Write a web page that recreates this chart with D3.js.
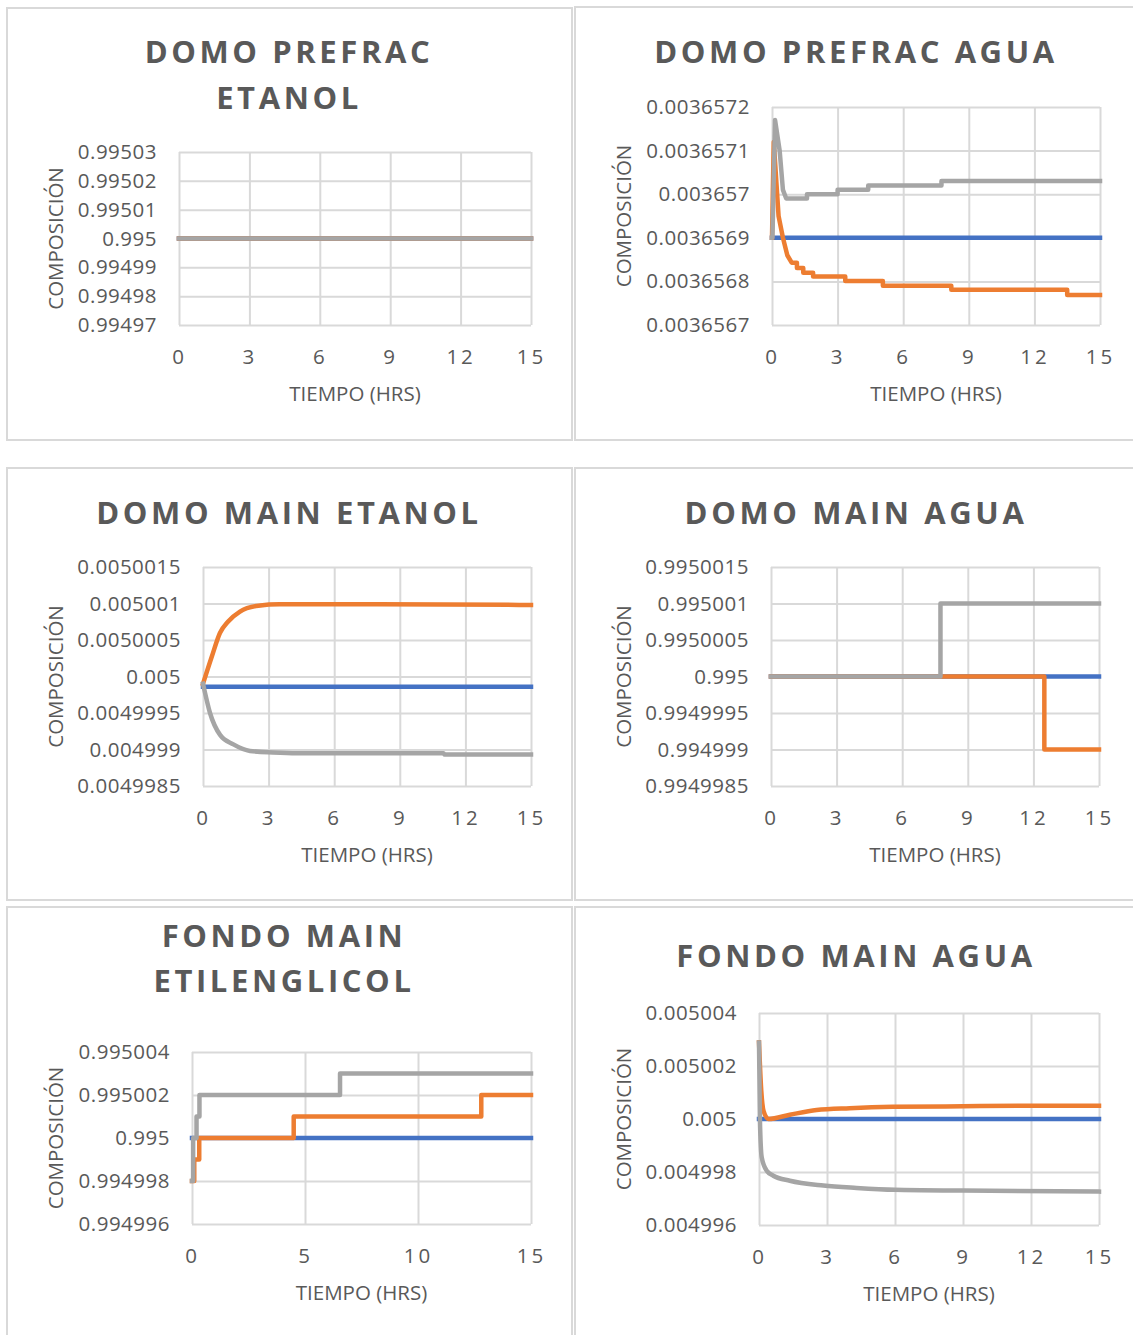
<!DOCTYPE html>
<html>
<head>
<meta charset="utf-8">
<script src="https://cdn.jsdelivr.net/npm/d3@7"></script>
<style>
  html, body { margin: 0; padding: 0; background: #fff; }
  svg { display: block; }
</style>
</head>
<body>
<svg id="chart" width="1133" height="1335"></svg>
<script>
// ---- Data: time (hrs) vs composition, three series per panel ----
const seriesNames = ["Serie1", "Serie2", "Serie3"];
const seriesColors = ["#4472C4", "#ED7D31", "#A5A5A5"];

const ticksTime3 = ["0", "3", "6", "9", "12", "15"];
const ticksTime5 = ["0", "5", "10", "15"];

// DOMO PREFRAC ETANOL
const prefracEtanolTicks = ["0.99503", "0.99502", "0.99501", "0.995", "0.99499", "0.99498", "0.99497"];
const prefracEtanolBlue   = [[0, 0.995], [15, 0.995]];
const prefracEtanolOrange = [[0, 0.995], [15, 0.995]];
const prefracEtanolGray   = [[0, 0.995], [15, 0.995]];

// DOMO PREFRAC AGUA
const prefracAguaTicks = ["0.0036572", "0.0036571", "0.003657", "0.0036569", "0.0036568", "0.0036567"];
const prefracAguaBlue = [[0, 0.0036569], [15, 0.0036569]];
const prefracAguaOrange = [
  [0, 0.0036569], [0.08, 0.00365712], [0.3, 0.00365695], [0.5, 0.0036569], [0.7, 0.00365686],
  [0.9, 0.003656843], [1.14, 0.003656843], [1.14, 0.003656831], [1.43, 0.003656831],
  [1.43, 0.00365682], [1.88, 0.00365682], [1.88, 0.003656811], [3.35, 0.003656811],
  [3.35, 0.003656801], [5.07, 0.003656801], [5.07, 0.00365679], [8.2, 0.00365679],
  [8.2, 0.003656781], [13.5, 0.003656781], [13.5, 0.003656769], [15, 0.003656769]
];
const prefracAguaGray = [
  [0, 0.0036569], [0.02, 0.0036569], [0.14, 0.00365717], [0.35, 0.0036571], [0.5, 0.00365701],
  [0.65, 0.00365699], [1.6, 0.00365699], [1.6, 0.003657], [3.0, 0.003657], [3.0, 0.00365701],
  [4.4, 0.00365701], [4.4, 0.00365702], [7.75, 0.00365702], [7.75, 0.00365703], [15, 0.00365703]
];

// DOMO MAIN ETANOL
const mainEtanolTicks = ["0.0050015", "0.005001", "0.0050005", "0.005", "0.0049995", "0.004999", "0.0049985"];
const mainEtanolBlue = [[0, 0.00499986], [15, 0.00499986]];
const mainEtanolOrange = [
  [0, 0.0049999], [0.4, 0.00500027], [0.78, 0.0050006], [1.14, 0.00500075], [1.69, 0.00500089],
  [2.53, 0.00500097], [3.5, 0.00500099], [15, 0.00500098]
];
const mainEtanolGray = [
  [0, 0.0049999], [0.32, 0.0049995], [0.78, 0.0049992], [1.39, 0.00499907], [2.15, 0.00499898],
  [3.2, 0.00499896], [4.3, 0.00499895], [11, 0.00499895], [11.05, 0.00499893], [15, 0.00499893]
];

// DOMO MAIN AGUA
const mainAguaTicks = ["0.9950015", "0.995001", "0.9950005", "0.995", "0.9949995", "0.994999", "0.9949985"];
const mainAguaBlue = [[0, 0.995], [15, 0.995]];
const mainAguaOrange = [[0, 0.995], [12.5, 0.994999], [15, 0.994999]];
const mainAguaGray = [[0, 0.995], [7.75, 0.995001], [15, 0.995001]];

// FONDO MAIN ETILENGLICOL
const fondoGlicolTicks = ["0.995004", "0.995002", "0.995", "0.994998", "0.994996"];
const fondoGlicolBlue = [[0, 0.995], [15, 0.995]];
const fondoGlicolOrange = [[0, 0.994998], [0.1, 0.994999], [0.32, 0.995], [4.5, 0.995001], [12.8, 0.995002], [15, 0.995002]];
const fondoGlicolGray = [[0, 0.994998], [0.05, 0.995], [0.2, 0.995001], [0.33, 0.995002], [6.55, 0.995003], [15, 0.995003]];

// FONDO MAIN AGUA
const fondoAguaTicks = ["0.005004", "0.005002", "0.005", "0.004998", "0.004996"];
const fondoAguaBlue = [[0, 0.005], [15, 0.005]];
const fondoAguaOrange = [
  [0, 0.00500289], [0.1, 0.00500107], [0.2, 0.00500031], [0.42, 0.005], [1.36, 0.00500016],
  [2.54, 0.00500034], [4.0, 0.00500041], [5.9, 0.00500046], [9.0, 0.00500048], [12, 0.0050005], [15, 0.0050005]
];
const fondoAguaGray = [
  [0, 0.00500289], [0.04, 0.005], [0.12, 0.00499855], [0.34, 0.00499805], [0.63, 0.00499786],
  [1.36, 0.00499767], [2.84, 0.00499749], [4.3, 0.0049974], [6.0, 0.00499733], [9.0, 0.0049973], [15, 0.00499726]
];

// ---- Panel layout ----
const panels = [
  { title: ["DOMO PREFRAC", "ETANOL"], titleX: 289, titleY: [51, 97],
    box: [7, 8, 572, 440], plot: [179, 531, 152, 325],
    yTicks: prefracEtanolTicks, xTicks: ticksTime3, curve: d3.curveLinear,
    series: [prefracEtanolBlue, prefracEtanolOrange, prefracEtanolGray] },
  { title: ["DOMO PREFRAC AGUA"], titleX: 856, titleY: [51],
    box: [575, 7, 1145, 440], plot: [772, 1100, 107, 325],
    yTicks: prefracAguaTicks, xTicks: ticksTime3, curve: d3.curveLinear,
    series: [prefracAguaBlue, prefracAguaOrange, prefracAguaGray] },
  { title: ["DOMO MAIN ETANOL"], titleX: 289, titleY: [512],
    box: [7, 468, 572, 900], plot: [203, 531, 567, 786],
    yTicks: mainEtanolTicks, xTicks: ticksTime3, curve: d3.curveMonotoneX,
    series: [mainEtanolBlue, mainEtanolOrange, mainEtanolGray] },
  { title: ["DOMO MAIN AGUA"], titleX: 856, titleY: [512],
    box: [575, 468, 1145, 900], plot: [771, 1099, 567, 786],
    yTicks: mainAguaTicks, xTicks: ticksTime3, curve: d3.curveStepAfter,
    series: [mainAguaBlue, mainAguaOrange, mainAguaGray] },
  { title: ["FONDO MAIN", "ETILENGLICOL"], titleX: 284, titleY: [935, 980],
    box: [7, 907, 572, 1345], plot: [192, 531, 1052, 1224],
    yTicks: fondoGlicolTicks, xTicks: ticksTime5, curve: d3.curveStepAfter,
    series: [fondoGlicolBlue, fondoGlicolOrange, fondoGlicolGray] },
  { title: ["FONDO MAIN AGUA"], titleX: 856, titleY: [955],
    box: [575, 907, 1145, 1345], plot: [759, 1099, 1013, 1225],
    yTicks: fondoAguaTicks, xTicks: ticksTime3, curve: d3.curveMonotoneX,
    series: [fondoAguaBlue, fondoAguaOrange, fondoAguaGray] }
];

const svg = d3.select("#chart");
const textColor = "#595959";
const gridColor = "#D9D9D9";
const font = "'Open Sans', 'Noto Sans', sans-serif";

panels.forEach(p => {
  const g = svg.append("g");
  const [bx0, by0, bx1, by1] = p.box;
  g.append("rect")
    .attr("x", bx0).attr("y", by0)
    .attr("width", bx1 - bx0).attr("height", by1 - by0)
    .attr("fill", "#fff").attr("stroke", gridColor).attr("stroke-width", 2);

  const [left, right, top, bottom] = p.plot;
  const yVals = p.yTicks.map(Number);
  const x = d3.scaleLinear().domain([0, 15]).range([left, right]);
  const y = d3.scaleLinear().domain([d3.min(yVals), d3.max(yVals)]).range([bottom, top]);

  // gridlines + tick labels
  const yAxis = d3.axisLeft(y).tickValues(yVals).tickSize(-(right - left)).tickFormat((d, i) => p.yTicks[i]).tickPadding(22);
  const ya = g.append("g").attr("transform", `translate(${left},0)`).call(yAxis);
  ya.select(".domain").remove();
  ya.selectAll(".tick line").attr("stroke", gridColor).attr("stroke-width", 2);
  ya.selectAll(".tick text").attr("fill", textColor).style("font-family", font).style("font-size", "20.5px").style("letter-spacing", "0.5px");

  const xVals = p.xTicks.map(Number);
  const xAxis = d3.axisBottom(x).tickValues(xVals).tickSize(-(bottom - top)).tickFormat((d, i) => p.xTicks[i]).tickPadding(24);
  const xa = g.append("g").attr("transform", `translate(0,${bottom})`).call(xAxis);
  xa.select(".domain").remove();
  xa.selectAll(".tick line").attr("stroke", gridColor).attr("stroke-width", 2);
  xa.selectAll(".tick text").attr("fill", textColor).style("font-family", font).style("font-size", "20.5px").style("letter-spacing", "3px");

  // series
  const line = d3.line().x(d => x(d[0])).y(d => y(d[1])).curve(p.curve);
  p.series.forEach((s, i) => {
    g.append("path").datum(s)
      .attr("d", line)
      .attr("fill", "none")
      .attr("stroke", seriesColors[i])
      .attr("stroke-width", 4.5)
      .attr("stroke-linejoin", "round")
      .attr("stroke-linecap", "square");
  });

  // titles
  p.title.forEach((t, i) => {
    g.append("text")
      .attr("x", p.titleX).attr("y", p.titleY[i])
      .attr("text-anchor", "middle").attr("dominant-baseline", "central")
      .attr("fill", textColor)
      .style("font-family", font).style("font-weight", "bold")
      .style("font-size", "31px").style("letter-spacing", "3.6px")
      .text(t);
  });

  // axis titles
  g.append("text")
    .attr("x", (left + right) / 2).attr("y", bottom + 68)
    .attr("text-anchor", "middle").attr("dominant-baseline", "central")
    .attr("fill", textColor).style("font-family", font).style("font-size", "20.5px")
    .text("TIEMPO (HRS)");
  g.append("text")
    .attr("transform", `translate(${bx0 + 48},${(top + bottom) / 2}) rotate(-90)`)
    .attr("text-anchor", "middle").attr("dominant-baseline", "central")
    .attr("fill", textColor).style("font-family", font).style("font-size", "20.5px")
    .text("COMPOSICIÓN");
});
</script>
</body>
</html>
